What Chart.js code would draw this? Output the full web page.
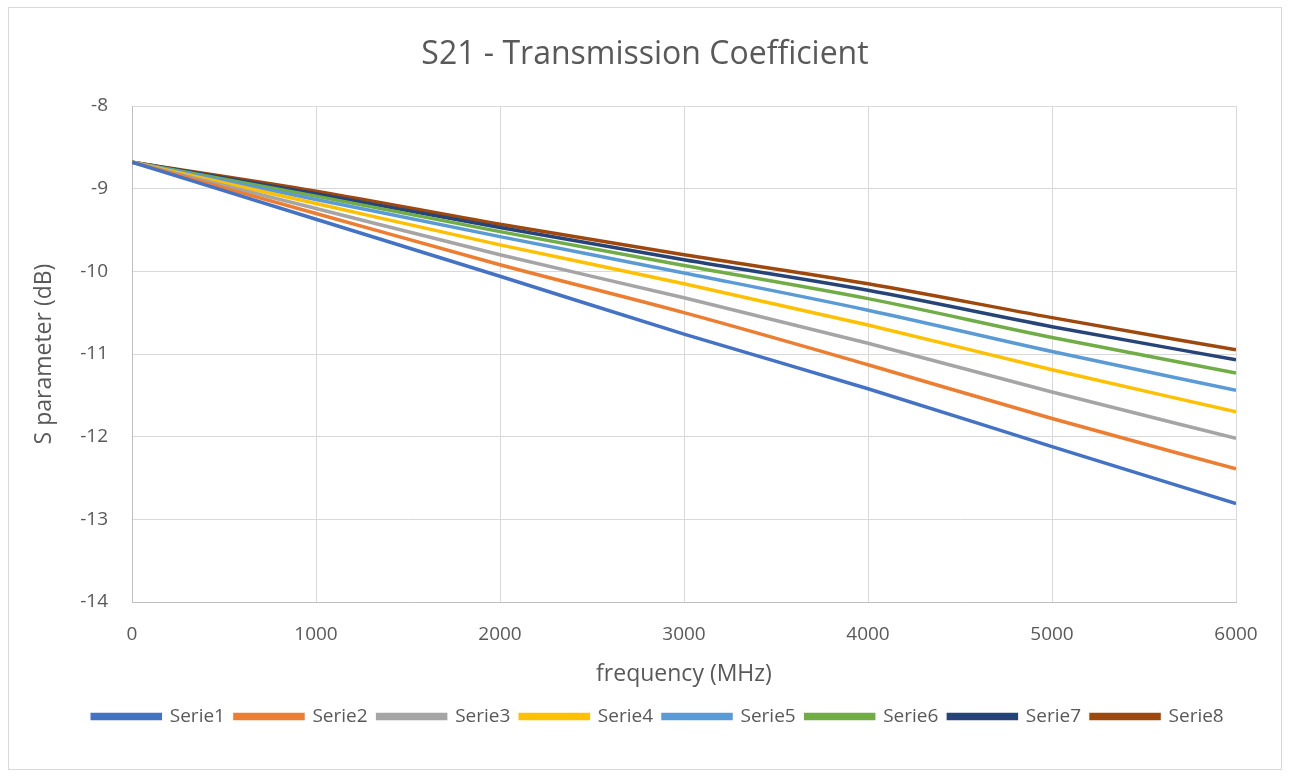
<!DOCTYPE html>
<html>
<head>
<meta charset="utf-8">
<title>S21 - Transmission Coefficient</title>
<script src="https://cdn.jsdelivr.net/npm/chart.js@4.4.1/dist/chart.umd.min.js"></script>
<style>
  html, body { margin: 0; padding: 0; background: #ffffff; }
  #wrap { width: 1290px; height: 778px; position: relative; }
</style>
</head>
<body>
<div id="wrap"><canvas id="chart" width="1290" height="778"></canvas></div>
<script>
// Frequency sweep points (MHz)
const frequency = [0, 1000, 2000, 3000, 4000, 5000, 6000];

// S21 magnitude in dB for each line configuration
const serie1 = [-8.68, -9.37, -10.06, -10.76, -11.42, -12.12, -12.81];
const serie2 = [-8.68, -9.30, -9.92, -10.50, -11.13, -11.78, -12.39];
const serie3 = [-8.68, -9.24, -9.80, -10.32, -10.87, -11.46, -12.02];
const serie4 = [-8.68, -9.18, -9.68, -10.15, -10.65, -11.19, -11.70];
const serie5 = [-8.68, -9.13, -9.58, -10.02, -10.47, -10.97, -11.44];
const serie6 = [-8.68, -9.09, -9.52, -9.93, -10.33, -10.80, -11.23];
const serie7 = [-8.68, -9.06, -9.47, -9.86, -10.23, -10.67, -11.07];
const serie8 = [-8.68, -9.03, -9.43, -9.80, -10.15, -10.56, -10.95];

const seriesNames = ['Serie1', 'Serie2', 'Serie3', 'Serie4', 'Serie5', 'Serie6', 'Serie7', 'Serie8'];
const seriesValues = [serie1, serie2, serie3, serie4, serie5, serie6, serie7, serie8];
const seriesColors = ['#4472C4', '#ED7D31', '#A5A5A5', '#FFC000', '#5B9BD5', '#70AD47', '#264478', '#9E480E'];

const xTicks = [0, 1000, 2000, 3000, 4000, 5000, 6000];
const yTicks = [-8, -9, -10, -11, -12, -13, -14];

const FONT = "'Open Sans', 'Noto Sans', sans-serif";
const TEXT = '#595959';

const datasets = seriesNames.map((name, i) => ({
  label: name,
  data: frequency.map((f, j) => ({ x: f, y: seriesValues[i][j] })),
  borderColor: seriesColors[i],
  backgroundColor: seriesColors[i],
  borderWidth: 3.5,
  pointRadius: 0,
  cubicInterpolationMode: 'monotone',
  fill: false
}));

// white page with a thin frame around the chart
const frame = {
  id: 'frame',
  beforeDraw(chart) {
    const c = chart.ctx;
    c.save();
    c.fillStyle = '#ffffff';
    c.fillRect(0, 0, chart.width, chart.height);
    c.strokeStyle = '#d9d9d9';
    c.lineWidth = 1;
    c.strokeRect(8.5, 7.5, 1273, 762);
    c.restore();
  }
};

// nudge the legend row a little to the right of centre
const legendShift = {
  id: 'legendShift',
  afterLayout(chart) {
    if (chart.legend) {
      chart.legend.left += 13;
      chart.legend.right += 13;
    }
  }
};

new Chart(document.getElementById('chart'), {
  type: 'line',
  data: { datasets },
  plugins: [frame, legendShift],
  options: {
    responsive: false,
    animation: false,
    layout: { padding: { left: 0, right: 0, top: 0, bottom: 42 } },
    plugins: {
      title: {
        display: true,
        text: 'S21 - Transmission Coefficient',
        color: TEXT,
        font: { family: FONT, size: 32, weight: 'normal' },
        padding: { top: 36, bottom: 31.6 }
      },
      legend: {
        position: 'bottom',
        labels: {
          color: TEXT,
          font: { family: FONT, size: 19 },
          boxWidth: 68,
          boxHeight: 4,
          padding: 10
        }
      },
      tooltip: { enabled: false }
    },
    scales: {
      x: {
        type: 'linear',
        min: 0,
        max: 6000,
        afterBuildTicks(s) { s.ticks = xTicks.map(v => ({ value: v })); },
        afterFit(s) { s.height = 95; },
        grid: { color: '#d9d9d9', lineWidth: 1, drawTicks: false },
        border: { color: '#bfbfbf' },
        ticks: {
          color: TEXT,
          font: { family: FONT, size: 19 },
          padding: 21,
          maxRotation: 0,
          callback: v => String(v)
        },
        title: {
          display: true,
          text: 'frequency (MHz)',
          color: TEXT,
          font: { family: FONT, size: 23 },
          padding: { top: 0, bottom: 9 }
        }
      },
      y: {
        type: 'linear',
        min: -14,
        max: -8,
        afterBuildTicks(s) { s.ticks = yTicks.map(v => ({ value: v })); },
        afterFit(s) { s.width = 132; },
        grid: { color: '#d9d9d9', lineWidth: 1, drawTicks: false },
        border: { color: '#bfbfbf' },
        ticks: { color: TEXT, font: { family: FONT, size: 19 }, padding: 24, callback: v => String(v) },
        title: {
          display: true,
          text: 'S parameter (dB)',
          color: TEXT,
          font: { family: FONT, size: 23 },
          padding: { top: 31, bottom: 0 }
        }
      },
      // empty right-hand gutter so the plot ends short of the frame
      gutter: {
        type: 'linear',
        position: 'right',
        display: true,
        afterFit(s) { s.width = 54; },
        grid: { display: false, drawTicks: false },
        border: { display: false },
        ticks: { display: false }
      }
    }
  }
});
</script>
</body>
</html>
